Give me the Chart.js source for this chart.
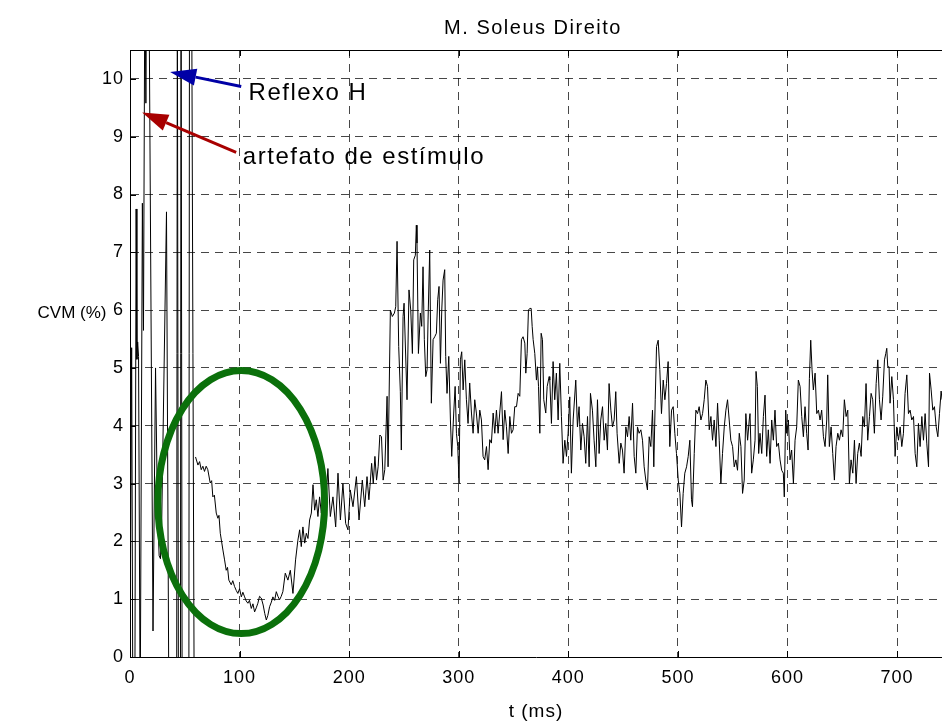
<!DOCTYPE html>
<html lang="pt">
<head>
    <meta charset="UTF-8">
    <title>M. Soleus Direito</title>
    <script src="https://cdn.jsdelivr.net/npm/chart.js"></script>
    <style>
        html, body { margin: 0; padding: 0; background: #fff; }
        #wrap { width: 942px; height: 722px; }
    </style>
</head>
<body>
<div id="wrap"><canvas id="emg" width="942" height="722"></canvas></div>
<script>
    // [t (ms), CVM (%)]; values off the axes are just "above" / "below"
    const stimulusArtefact = [
        [0, 0], [1.5, 5.35], [2.6, -1], [4.4, -1], [5.6, 7.75], [6.3, 5.15], [7.0, 5.45], [7.8, 5.2],
        [9.3, -1], [11.3, 7.85], [12.3, 5.65], [13.6, 12], [14.5, 9.58], [15.2, 12], [17.2, 12],
        [21.0, 0.45], [23.3, 5.0], [25.0, 2.6], [26.6, 1.75], [27.8, 1.7], [29.0, 2.4], [33.3, 7.7],
        [35.5, -1], [42.6, -1], [43.2, 12], [44.2, -1], [46.0, -1], [46.6, 12], [47.6, -1],
        [53.7, -1], [54.3, 12], [56.2, 12], [58.6, -1]
    ];

    const silentPeriod = [
        [59.8, 3.46], [62.0, 3.32], [63.5, 3.38], [65.0, 3.24], [66.5, 3.30], [68.0, 3.21], [69.5, 3.30],
        [71.0, 3.24], [73.2, 3.01], [74.5, 3.05], [75.6, 2.77], [77.0, 2.80], [78.7, 2.49], [80.2, 2.40],
        [81.2, 2.45], [82.4, 2.14], [84.8, 1.85], [86.3, 1.68], [87.8, 1.50], [89.0, 1.55], [90.2, 1.33],
        [92.4, 1.25], [93.8, 1.32], [95.4, 1.22], [97.0, 1.15], [98.4, 1.10], [100.0, 1.18], [101.6, 1.04],
        [103.0, 1.12], [104.6, 1.04], [106.0, 0.97], [107.6, 0.93], [109.0, 0.98], [110.7, 0.84],
        [112.2, 0.92], [113.7, 0.78], [115.2, 0.85], [116.7, 0.93], [118.2, 1.05], [119.8, 1.02],
        [121.5, 0.90], [123.0, 0.75], [124.4, 0.64], [125.8, 0.72], [127.4, 0.87], [129.0, 0.95],
        [130.4, 1.04], [132.0, 0.98], [133.5, 1.13], [135.0, 1.05], [136.5, 0.99], [138.0, 1.05],
        [139.5, 1.13], [141.7, 1.45], [144.1, 1.33], [146.3, 1.50], [148.7, 1.10], [151.1, 1.68],
        [153.2, 2.02], [154.8, 2.20], [156.3, 1.91], [157.8, 2.25], [159.4, 1.97], [160.9, 2.14],
        [162.4, 2.05], [163.9, 2.37], [165.5, 2.49], [167.0, 2.98], [168.5, 2.54], [170.0, 2.72],
        [171.5, 2.43], [173.0, 2.77], [174.6, 2.49], [176.7, 2.95], [178.5, 2.60], [180.6, 3.26],
        [182.8, 2.43], [185.2, 2.77], [187.7, 2.25], [189.8, 3.18], [192.0, 2.37], [194.3, 3.00],
        [196.8, 2.31], [198.9, 2.20], [201.0, 2.89], [203.5, 2.60], [206.6, 3.12], [209.0, 2.37],
        [212.0, 3.06], [214.2, 2.60], [216.3, 3.12], [218.0, 2.72]
    ];

    const lateBurst = [
        [219.0, 2.95], [220.5, 3.35], [222.0, 3.00], [223.5, 3.47], [225.0, 3.06], [226.5, 3.30],
        [228.0, 3.84], [229.5, 3.81], [231.0, 3.06], [232.5, 3.24], [234.6, 4.51], [235.5, 3.29],
        [237.6, 6.00], [239.4, 5.89], [241.3, 5.95], [242.5, 6.06], [243.7, 7.19], [245.2, 5.37],
        [246.7, 4.59], [247.6, 3.58], [249.2, 5.89], [250.1, 6.12], [252.8, 4.45], [254.6, 6.35],
        [256.2, 6.00], [257.7, 5.25], [258.9, 6.87], [260.4, 6.95], [261.3, 7.47], [261.9, 7.16],
        [263.2, 5.25], [265.0, 5.95], [266.2, 5.72], [267.4, 6.75], [268.6, 5.49], [269.9, 4.85],
        [271.1, 4.97], [272.0, 5.83], [273.5, 7.04], [275.0, 4.39], [276.6, 5.49], [278.1, 5.54],
        [279.6, 5.60], [280.8, 6.18], [282.0, 6.41], [283.3, 5.08], [284.5, 6.00], [285.7, 6.52],
        [287.2, 6.70], [288.1, 5.20], [289.3, 4.56], [290.9, 5.20], [292.4, 4.10], [293.6, 3.47],
        [295.4, 4.22], [296.7, 4.68], [297.9, 3.87], [299.1, 3.64], [300.3, 3.00], [301.5, 5.14],
        [302.7, 5.28], [304.0, 4.62], [305.5, 5.14], [307.0, 4.45], [308.5, 4.04], [310.0, 4.74],
        [311.6, 4.22], [313.1, 3.87], [314.6, 4.45], [316.1, 4.22], [317.7, 3.87], [319.2, 4.27],
        [320.7, 4.10], [322.2, 3.47], [323.7, 3.41], [325.3, 3.64], [326.8, 3.24], [328.3, 3.76],
        [329.8, 3.70], [331.4, 4.22], [332.9, 3.87], [334.4, 4.27], [335.9, 3.87], [337.4, 4.22],
        [339.0, 4.59], [340.5, 3.76], [342.0, 4.27], [343.5, 3.99], [345.1, 3.52], [346.6, 4.16],
        [348.1, 3.87], [349.6, 3.93], [351.1, 4.33], [352.7, 4.33], [354.2, 4.56], [355.7, 4.51],
        [357.2, 5.49], [358.7, 5.54], [360.3, 5.43], [361.2, 4.91], [362.4, 5.25], [363.6, 6.00],
        [364.8, 6.03], [366.1, 6.03], [367.0, 5.72], [367.9, 5.49], [369.4, 5.25], [370.9, 4.79],
        [371.8, 5.02], [372.8, 4.68], [374.0, 3.87], [375.2, 5.60], [376.4, 5.49], [377.6, 4.45],
        [379.4, 4.22], [380.7, 4.68], [382.5, 4.85]
    ];

    const plateauA = [
        [383.1, 4.79], [384.6, 4.04], [386.1, 5.11], [387.6, 4.45], [389.1, 4.91], [390.7, 4.10],
        [392.2, 5.08], [393.7, 4.16], [395.2, 3.35], [396.8, 3.75], [398.3, 3.47], [399.8, 3.87],
        [401.3, 4.50], [402.8, 3.18], [404.4, 4.10], [406.8, 4.79], [408.3, 3.98], [409.8, 4.33],
        [411.4, 3.58], [412.9, 4.04], [414.4, 3.81], [415.9, 3.35], [417.5, 4.16], [419.0, 3.29],
        [420.2, 4.56], [422.0, 4.27], [423.5, 3.75], [425.1, 3.29], [426.6, 4.45], [428.1, 3.52],
        [429.6, 4.10], [431.2, 4.33], [432.7, 3.75], [434.2, 4.04], [435.7, 3.58], [437.2, 4.73],
        [438.8, 4.27], [440.3, 3.98], [441.8, 4.10], [443.3, 4.59], [444.5, 3.87], [446.4, 3.35],
        [447.9, 3.70], [449.4, 3.58], [450.9, 3.18], [452.5, 3.98], [454.0, 3.81], [455.5, 4.16],
        [457.0, 3.75], [458.6, 4.39], [460.1, 3.47], [461.6, 3.18], [463.1, 3.98], [464.6, 3.87],
        [466.2, 3.93], [467.7, 3.75], [469.2, 3.29], [470.7, 3.06], [472.2, 2.89], [473.8, 3.81],
        [475.3, 3.64], [476.8, 4.27], [478.0, 3.29], [479.3, 4.45], [480.5, 5.37], [482.0, 5.48],
        [483.5, 4.97], [485.0, 4.21], [486.6, 4.79], [488.1, 4.45], [489.6, 4.73], [491.1, 5.11],
        [492.6, 3.64], [494.2, 4.27], [495.7, 4.33], [497.2, 3.87], [498.7, 3.52], [500.3, 3.06],
        [501.8, 2.83], [503.3, 2.25], [504.8, 2.83], [506.3, 3.18], [507.9, 3.29], [509.4, 3.47],
        [510.9, 3.75], [512.4, 2.72], [513.3, 2.60], [514.9, 3.52], [516.4, 4.27], [517.9, 4.21],
        [519.4, 4.33], [521.0, 4.10], [522.5, 4.21], [524.0, 4.45], [525.5, 4.79], [527.0, 4.68],
        [528.6, 3.93], [530.1, 4.16], [531.6, 3.75], [533.1, 4.10], [534.7, 3.64], [536.2, 4.39],
        [537.7, 3.75], [539.2, 3.00], [540.7, 3.52], [542.3, 3.98], [543.8, 4.27], [545.3, 4.45],
        [546.8, 4.10], [548.3, 3.75], [549.9, 3.64], [551.4, 3.29], [552.9, 3.41], [554.4, 3.23],
        [556.0, 3.87], [557.5, 3.64], [559.0, 2.83], [560.5, 3.06], [562.0, 4.21], [563.6, 3.75],
        [565.1, 4.10]
    ];

    const plateauB = [
        [565.8, 4.21], [567.3, 3.18], [568.8, 3.41], [570.4, 3.75], [571.3, 4.94], [572.5, 4.68],
        [573.7, 3.52], [574.9, 3.87], [576.5, 3.52], [578.0, 4.16], [579.5, 4.53], [581.0, 3.47],
        [582.5, 3.93], [584.1, 3.35], [585.6, 4.10], [587.1, 3.75], [588.6, 4.27], [590.1, 3.64],
        [591.7, 3.70], [593.2, 3.41], [594.7, 3.23], [596.2, 3.18], [597.1, 2.77], [598.4, 4.27],
        [599.3, 3.87], [600.8, 4.10], [602.3, 3.41], [603.8, 3.58], [605.4, 3.00], [606.9, 3.75],
        [608.4, 3.98], [609.9, 4.79], [611.5, 4.68], [613.0, 4.16], [614.5, 3.81], [616.0, 4.33],
        [617.5, 3.87], [618.8, 3.58], [620.0, 4.82], [621.2, 5.48], [622.4, 4.97], [623.6, 4.62],
        [625.2, 4.91], [626.7, 4.21], [628.2, 4.27], [629.7, 4.10], [631.2, 4.27], [632.8, 3.81],
        [634.3, 3.64], [635.8, 4.10], [636.7, 4.88], [638.2, 3.64], [639.8, 3.98], [641.3, 3.52],
        [642.8, 3.06], [644.3, 3.64], [645.9, 3.87], [647.4, 3.75], [648.9, 3.93], [650.4, 3.81],
        [651.9, 4.45], [653.5, 4.16], [655.0, 4.27], [656.5, 3.00], [658.0, 3.41], [659.6, 3.18],
        [661.1, 3.75], [662.6, 3.00], [664.1, 3.52], [665.6, 3.70], [667.2, 3.47], [668.7, 4.16],
        [670.2, 3.98], [671.7, 4.73], [673.2, 3.75], [674.8, 4.16], [676.3, 4.56], [677.8, 4.45],
        [679.3, 3.87], [680.9, 4.73], [682.4, 5.14], [683.9, 4.45], [685.4, 4.10], [686.9, 4.50],
        [688.5, 5.14], [689.7, 5.25], [690.6, 5.34], [691.5, 5.02], [692.7, 5.02], [693.6, 4.39],
        [695.2, 4.85], [696.7, 4.45], [698.2, 3.47], [699.7, 3.98], [701.3, 3.75], [702.8, 3.98],
        [704.3, 3.64], [705.8, 3.87], [707.3, 4.56], [708.9, 4.88], [710.4, 4.21], [711.9, 4.27],
        [713.4, 4.10], [715.0, 4.16], [716.5, 3.52], [718.0, 3.29], [719.5, 4.04], [721.0, 3.64],
        [722.6, 4.16], [724.1, 3.75], [725.6, 4.21], [727.1, 3.70], [728.7, 3.29], [729.6, 4.91],
        [731.1, 4.62], [732.6, 4.27], [734.1, 4.33], [735.7, 3.98], [737.2, 3.81], [738.7, 4.21],
        [740.2, 4.60], [741.1, 4.45]
    ];

    // annotations (data units)
    const ellipse = { t: 101.5, v: 2.68, rt: 76.1, rv: 2.275 };
    const arrows = [
        { from: [101.5, 9.87], to: [36.6, 10.12], color: '#0000a6' },
        { from: [96.9, 8.73], to: [11.1, 9.42], color: '#a80000' }
    ];
    const notes = [
        { text: 'Reflexo H', t: 108.2, v: 9.64 },
        { text: 'artefato de estímulo', t: 103.0, v: 8.52 }
    ];

    const FONT = "'Liberation Sans', Arial, sans-serif";

    const toPts = seg => seg.map(([t, v]) => ({ x: t, y: v }));
    const points = [
        ...toPts(stimulusArtefact),
        { x: 59.2, y: null },
        ...toPts(silentPeriod),
        ...toPts(lateBurst),
        ...toPts(plateauA),
        ...toPts(plateauB)
    ];

    function drawArrow(ctx, x1, y1, x2, y2, color) {
        const ang = Math.atan2(y2 - y1, x2 - x1);
        const len = 26, half = 8.5;
        const bx = x2 - len * Math.cos(ang), by = y2 - len * Math.sin(ang);
        ctx.strokeStyle = color;
        ctx.fillStyle = color;
        ctx.lineWidth = 3;
        ctx.beginPath();
        ctx.moveTo(x1, y1);
        ctx.lineTo(bx, by);
        ctx.stroke();
        ctx.beginPath();
        ctx.moveTo(x2, y2);
        ctx.lineTo(bx + half * Math.sin(ang), by - half * Math.cos(ang));
        ctx.lineTo(bx - half * Math.sin(ang), by + half * Math.cos(ang));
        ctx.closePath();
        ctx.fill();
    }

    const overlay = {
        id: 'overlay',
        beforeDraw(chart) {
            const ctx = chart.ctx;
            ctx.save();
            ctx.fillStyle = '#fff';
            ctx.fillRect(0, 0, chart.width, chart.height);
            ctx.restore();
            ctx.letterSpacing = '1px';
        },
        afterDatasetsDraw(chart) {
            const { ctx, chartArea: a, scales: { x, y } } = chart;
            ctx.save();

            // green circle round the silent period
            const cx = x.getPixelForValue(ellipse.t);
            const cy = y.getPixelForValue(ellipse.v);
            const rx = x.getPixelForValue(ellipse.t + ellipse.rt) - cx;
            const ry = cy - y.getPixelForValue(ellipse.v + ellipse.rv);
            ctx.beginPath();
            ctx.ellipse(cx, cy, rx, ry, 0, 0, Math.PI * 2);
            ctx.lineWidth = 7;
            ctx.strokeStyle = '#0b700b';
            ctx.stroke();

            arrows.forEach(ar => {
                drawArrow(ctx,
                    x.getPixelForValue(ar.from[0]), y.getPixelForValue(ar.from[1]),
                    x.getPixelForValue(ar.to[0]), y.getPixelForValue(ar.to[1]), ar.color);
            });

            ctx.fillStyle = '#000';
            ctx.font = '24px ' + FONT;
            ctx.letterSpacing = '1.5px';
            ctx.textAlign = 'left';
            ctx.textBaseline = 'alphabetic';
            notes.forEach(n => ctx.fillText(n.text, x.getPixelForValue(n.t), y.getPixelForValue(n.v)));

            // box and inward ticks
            ctx.strokeStyle = '#000';
            ctx.lineWidth = 1;
            ctx.beginPath();
            ctx.moveTo(a.left, a.top + 0.5);
            ctx.lineTo(a.right, a.top + 0.5);
            x.ticks.forEach(tk => {
                const px = Math.round(x.getPixelForValue(tk.value)) + 0.5;
                ctx.moveTo(px, a.bottom); ctx.lineTo(px, a.bottom - 6);
                ctx.moveTo(px, a.top); ctx.lineTo(px, a.top + 6);
            });
            y.ticks.forEach(tk => {
                const py = Math.round(y.getPixelForValue(tk.value)) + 0.5;
                ctx.moveTo(a.left, py); ctx.lineTo(a.left + 6, py);
            });
            ctx.stroke();
            ctx.restore();
        },
        afterDraw(chart) {
            const { ctx, chartArea: a, scales: { y } } = chart;
            ctx.save();
            ctx.fillStyle = '#000';
            ctx.textAlign = 'center';
            ctx.textBaseline = 'middle';
            ctx.letterSpacing = '1.5px';
            ctx.font = '20px ' + FONT;
            ctx.fillText('M. Soleus Direito', (a.left + a.right) / 2 - 3, 28);
            ctx.letterSpacing = '1px';
            ctx.font = '19px ' + FONT;
            ctx.fillText('t (ms)', (a.left + a.right) / 2, 712);
            ctx.letterSpacing = '0px';
            ctx.font = '17px ' + FONT;
            ctx.fillText('CVM (%)', 72, y.getPixelForValue(5.95));
            ctx.restore();
        }
    };

    const gridColor = 'rgba(0,0,0,0.72)';

    new Chart(document.getElementById('emg'), {
        type: 'line',
        data: {
            datasets: [{
                data: points,
                borderColor: '#000',
                borderWidth: 1,
                pointRadius: 0,
                tension: 0,
                spanGaps: false
            }]
        },
        options: {
            responsive: false,
            devicePixelRatio: 1,
            animation: false,
            layout: { padding: { top: 50, right: 0, bottom: 0, left: 0 } },
            plugins: {
                legend: { display: false },
                title: { display: false },
                tooltip: { enabled: false }
            },
            scales: {
                x: {
                    type: 'linear',
                    min: 0,
                    max: 741,
                    ticks: {
                        stepSize: 100,
                        includeBounds: false,
                        maxRotation: 0,
                        padding: 10,
                        color: '#000',
                        font: { family: FONT, size: 18 }
                    },
                    grid: { color: gridColor, lineWidth: 1, drawTicks: false },
                    border: { display: true, color: '#000', width: 1, dash: [8, 6] },
                    afterFit: s => { s.height = 65; }
                },
                y: {
                    min: 0,
                    max: 10.5,
                    ticks: {
                        stepSize: 1,
                        includeBounds: false,
                        padding: 6,
                        color: '#000',
                        font: { family: FONT, size: 18 }
                    },
                    grid: { color: gridColor, lineWidth: 1, drawTicks: false },
                    border: { display: true, color: '#000', width: 1, dash: [8, 6] },
                    afterFit: s => { s.width = 130; }
                }
            }
        },
        plugins: [overlay]
    });
</script>
</body>
</html>
